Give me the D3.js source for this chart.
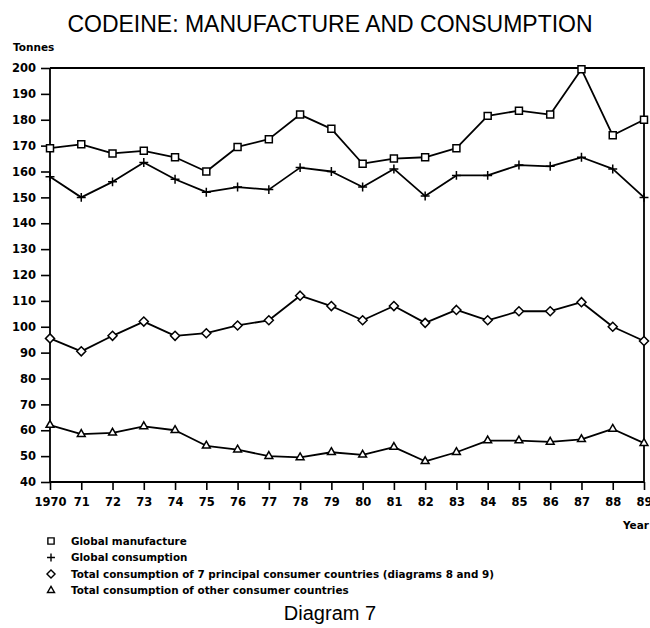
<!DOCTYPE html>
<html>
<head>
<meta charset="utf-8">
<script src="https://cdn.jsdelivr.net/npm/d3@7"></script>
<style>
  body { margin: 0; background: #fff; }
  text { fill: #000; }
</style>
</head>
<body>
<div id="container"></div>
<script>
const width = 650
const height = 628
const plotLeft = 50
const plotRight = 644
const plotTop = 68
const plotBottom = 482

// ---------------------------- DATA ----------------------------//
const years = [1970, 1971, 1972, 1973, 1974, 1975, 1976, 1977, 1978, 1979,
    1980, 1981, 1982, 1983, 1984, 1985, 1986, 1987, 1988, 1989]
const yearLabels = ['1970', '71', '72', '73', '74', '75', '76', '77', '78', '79',
    '80', '81', '82', '83', '84', '85', '86', '87', '88', '89']
const yTicks = [40, 50, 60, 70, 80, 90, 100, 110, 120, 130, 140, 150, 160, 170, 180, 190, 200]

const globalManufacture = [169, 170.5, 167, 168, 165.5, 160, 169.5, 172.5, 182, 176.5,
    163, 165, 165.5, 169, 181.5, 183.5, 182, 199.5, 174, 180]
const globalConsumption = [158, 150, 156, 163.5, 157, 152, 154, 153, 161.5, 160,
    154, 161, 150.5, 158.5, 158.5, 162.5, 162, 165.5, 161, 150]
const principalSeven = [95.5, 90.5, 96.5, 102, 96.5, 97.5, 100.5, 102.5, 112, 108,
    102.5, 108, 101.5, 106.5, 102.5, 106, 106, 109.5, 100, 94.5]
const otherCountries = [62, 58.5, 59, 61.5, 60, 54, 52.5, 50, 49.5, 51.5,
    50.5, 53.5, 48, 51.5, 56, 56, 55.5, 56.5, 60.5, 55]

const seriesNames = [
    'Global manufacture',
    'Global consumption',
    'Total consumption of 7 principal consumer countries (diagrams 8 and 9)',
    'Total consumption of other consumer countries'
]

const series = [
    { name: seriesNames[0], values: globalManufacture, symbol: d3.symbolSquare2, size: 62 },
    { name: seriesNames[1], values: globalConsumption, symbol: d3.symbolPlus, size: 28 },
    { name: seriesNames[2], values: principalSeven, symbol: d3.symbolDiamond2, size: 52 },
    { name: seriesNames[3], values: otherCountries, symbol: d3.symbolTriangle2, size: 44 }
]

const svg = d3.select('div#container').append('svg')
    .attr('width', width)
    .attr('height', height)

// --------------------------- SCALES ---------------------------//
const xScale = d3.scaleLinear().domain([1970, 1989]).range([plotLeft, plotRight])
const yScale = d3.scaleLinear().domain([40, 200]).range([plotBottom, plotTop])

// ---------------------------- TITLE ---------------------------//
svg.append('text')
    .attr('x', 330)
    .attr('y', 32)
    .attr('text-anchor', 'middle')
    .style('font-family', '"Liberation Sans", Arial, sans-serif')
    .style('font-size', '23px')
    .text('CODEINE: MANUFACTURE AND CONSUMPTION')

svg.append('text')
    .attr('x', 13)
    .attr('y', 51)
    .style('font-family', '"DejaVu Sans", sans-serif')
    .style('font-weight', 'bold')
    .style('font-size', '10.5px')
    .text('Tonnes')

// ---------------------------- AXES ----------------------------//
const yaxis = d3.axisLeft(yScale)
    .tickValues(yTicks)
    .tickSize(9)
    .tickPadding(5)
    .tickFormat(d3.format('d'))

const xaxis = d3.axisBottom(xScale)
    .tickValues(years)
    .tickSize(8)
    .tickPadding(8)
    .tickFormat((d, i) => yearLabels[i])

const gy = svg.append('g')
    .attr('transform', `translate(${plotLeft},0)`)
    .call(yaxis)

const gx = svg.append('g')
    .attr('transform', `translate(0,${plotBottom})`)
    .call(xaxis)

for (const g of [gx, gy]) {
    g.select('.domain').remove()
    g.selectAll('line').attr('stroke', '#000').attr('stroke-width', 1.6)
    g.selectAll('text')
        .style('font-family', '"DejaVu Sans", sans-serif')
        .style('font-weight', 'bold')
        .style('font-size', '11.5px')
        .attr('fill', '#000')
}

// frame: left, bottom, top, right
svg.append('path')
    .attr('d', `M${plotLeft},${plotTop}V${plotBottom}H${plotRight}V${plotTop}H${plotLeft}`)
    .attr('fill', 'none')
    .attr('stroke', '#000')
    .attr('stroke-width', 1.8)

svg.append('text')
    .attr('x', 649)
    .attr('y', 529)
    .attr('text-anchor', 'end')
    .style('font-family', '"DejaVu Sans", sans-serif')
    .style('font-weight', 'bold')
    .style('font-size', '10.5px')
    .text('Year')

// ---------------------------- LINES ---------------------------//
const line = d3.line()
    .x((d, i) => xScale(years[i]))
    .y(d => yScale(d))

const groups = svg.selectAll('g.series')
    .data(series)
    .enter()
    .append('g')
    .attr('class', 'series')

groups.append('path')
    .attr('d', d => line(d.values))
    .attr('fill', 'none')
    .attr('stroke', '#000')
    .attr('stroke-width', 1.8)
    .attr('stroke-linejoin', 'round')

groups.each(function (s) {
    d3.select(this).selectAll('path.marker')
        .data(s.values)
        .enter()
        .append('path')
        .attr('class', 'marker')
        .attr('transform', (d, i) => `translate(${xScale(years[i])},${yScale(d)})`)
        .attr('d', d3.symbol().type(s.symbol).size(s.size))
        .attr('fill', s.symbol === d3.symbolPlus ? 'none' : '#fff')
        .attr('stroke', '#000')
        .attr('stroke-width', 1.5)
})

// --------------------------- LEGEND ---------------------------//
const legend = svg.selectAll('g.legend')
    .data(series)
    .enter()
    .append('g')
    .attr('class', 'legend')
    .attr('transform', (d, i) => `translate(51,${541 + i * 16.5})`)

legend.append('path')
    .attr('d', d => d3.symbol().type(d.symbol).size(d.size * 0.8)())
    .attr('fill', 'none')
    .attr('stroke', '#000')
    .attr('stroke-width', 1.4)

legend.append('text')
    .attr('x', 20)
    .attr('dy', '0.35em')
    .style('font-family', '"DejaVu Sans", sans-serif')
    .style('font-weight', 'bold')
    .style('font-size', '10.4px')
    .text(d => d.name)

svg.append('text')
    .attr('x', 330)
    .attr('y', 620)
    .attr('text-anchor', 'middle')
    .style('font-family', '"Liberation Sans", Arial, sans-serif')
    .style('font-size', '20px')
    .text('Diagram 7')
</script>
</body>
</html>
